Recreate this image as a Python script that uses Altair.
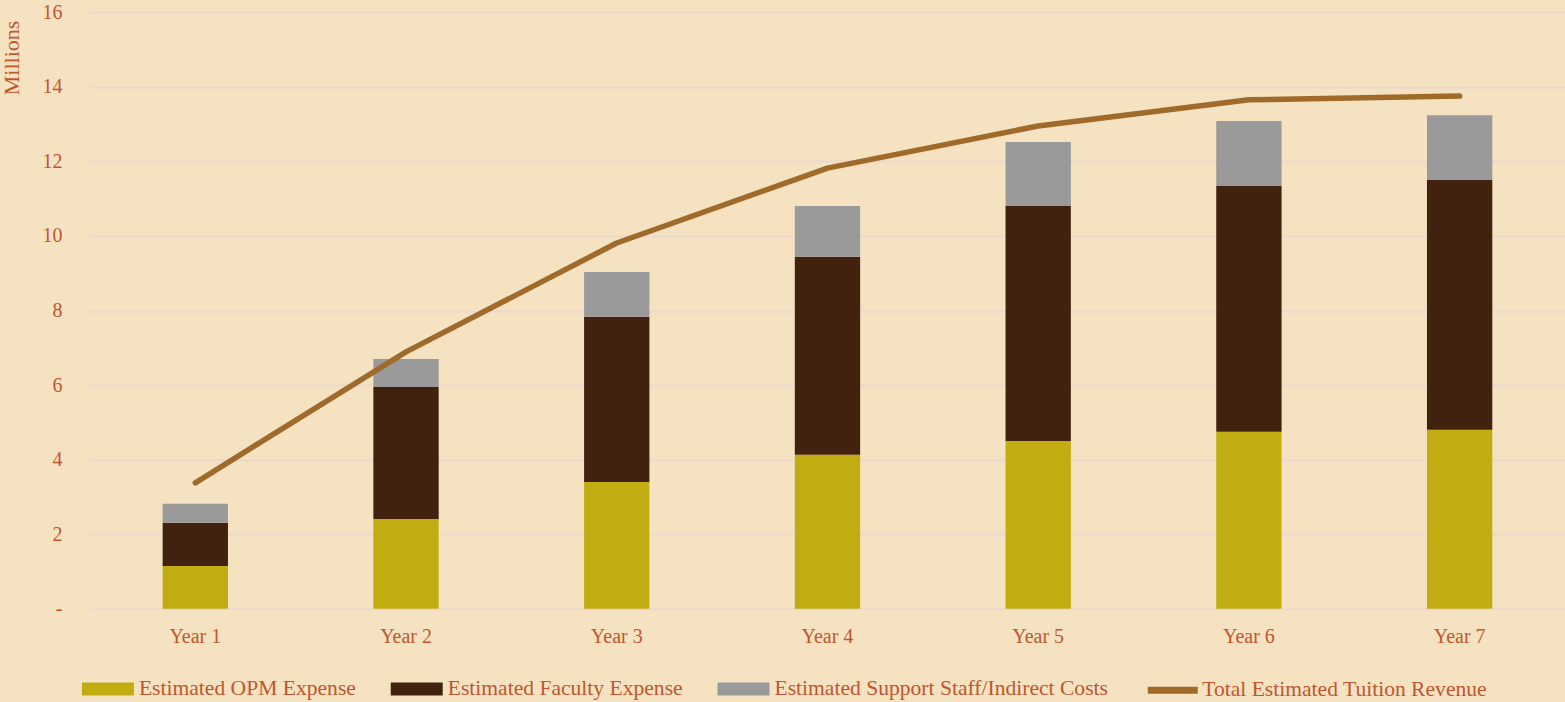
import altair as alt
import pandas as pd

years = ["Year 1", "Year 2", "Year 3", "Year 4", "Year 5", "Year 6", "Year 7"]
opm = [1.15, 2.41, 3.40, 4.13, 4.50, 4.75, 4.80]
faculty = [1.16, 3.54, 4.43, 5.31, 6.30, 6.59, 6.70]
support = [0.51, 0.75, 1.20, 1.36, 1.72, 1.74, 1.74]
revenue = [3.38, 6.89, 9.81, 11.82, 12.95, 13.65, 13.75]

series = ["Estimated OPM Expense", "Estimated Faculty Expense",
          "Estimated Support Staff/Indirect Costs"]
colors = ["#c1ad12", "#41220f", "#9a9a9a"]
line_name = "Total Estimated Tuition Revenue"

rows = []
for i, y in enumerate(years):
    for k, (s, vals) in enumerate(zip(series, [opm, faculty, support])):
        rows.append({"year": y, "series": s, "value": vals[i], "order": k})
bars_df = pd.DataFrame(rows)
line_df = pd.DataFrame({"year": years, "value": revenue, "series": [line_name] * len(years)})

FONT = "Liberation Serif"
TXT = "#c0562f"

x_enc = alt.X("year:N", sort=years, title=None,
              scale=alt.Scale(paddingInner=0.69, paddingOuter=0.345),
              axis=alt.Axis(labelAngle=0, domain=False, ticks=False, labelPadding=18,
                            labelFont=FONT, labelFontSize=20, labelColor=TXT, grid=False))

bars = alt.Chart(bars_df).mark_bar().encode(
    x=x_enc,
    y=alt.Y("value:Q", stack="zero",
            scale=alt.Scale(domain=[0, 16], nice=False),
            axis=alt.Axis(values=[0, 2, 4, 6, 8, 10, 12, 14, 16],
                          labelExpr="datum.value == 0 ? '-' : datum.label",
                          title="Millions", titleAnchor="end", titleAngle=-90,
                          titleFont=FONT, titleFontSize=22, titleFontWeight="normal",
                          titleColor=TXT, titlePadding=18, titleY=8,
                          labelFont=FONT, labelFontSize=20, labelColor=TXT,
                          labelPadding=28, domain=False, ticks=False,
                          grid=True, gridColor="#ecd8cf", gridWidth=2)),
    fill=alt.Fill("series:N", sort=series,
                  scale=alt.Scale(domain=series, range=colors),
                  legend=alt.Legend(orient="none", legendX=-8, legendY=651,
                                    direction="horizontal", title=None,
                                    symbolType="M-1,-0.25H1V0.25H-1Z", symbolSize=2704,
                                    symbolStrokeWidth=0, labelOffset=5, columnPadding=34,
                                    labelFont=FONT, labelFontSize=21.6, labelColor=TXT,
                                    labelLimit=500)),
    order=alt.Order("order:Q", sort="ascending"),
)

line = alt.Chart(line_df).mark_line(strokeWidth=5.5, strokeCap="round", strokeJoin="round").encode(
    x=alt.X("year:N", sort=years),
    y=alt.Y("value:Q"),
    stroke=alt.Stroke("series:N", scale=alt.Scale(domain=[line_name], range=["#9f6a2a"]),
                      legend=alt.Legend(orient="none", legendX=1055, legendY=650,
                                        title=None, symbolType="stroke", symbolSize=2500,
                                        symbolStrokeWidth=7, labelOffset=1,
                                        labelFont=FONT, labelFontSize=21.6, labelColor=TXT,
                                        labelLimit=500)),
)

chart = alt.layer(bars, line).resolve_scale(fill="independent", stroke="independent").properties(
    width=1476, height=597,
    autosize=alt.AutoSizeParams(type="none"),
    padding={"left": 90, "top": 12, "right": 0, "bottom": 93},
    background="#f5e2c1",
).configure_view(stroke=None)

chart.save("out.html", embed_options={"renderer": "svg", "actions": False})
